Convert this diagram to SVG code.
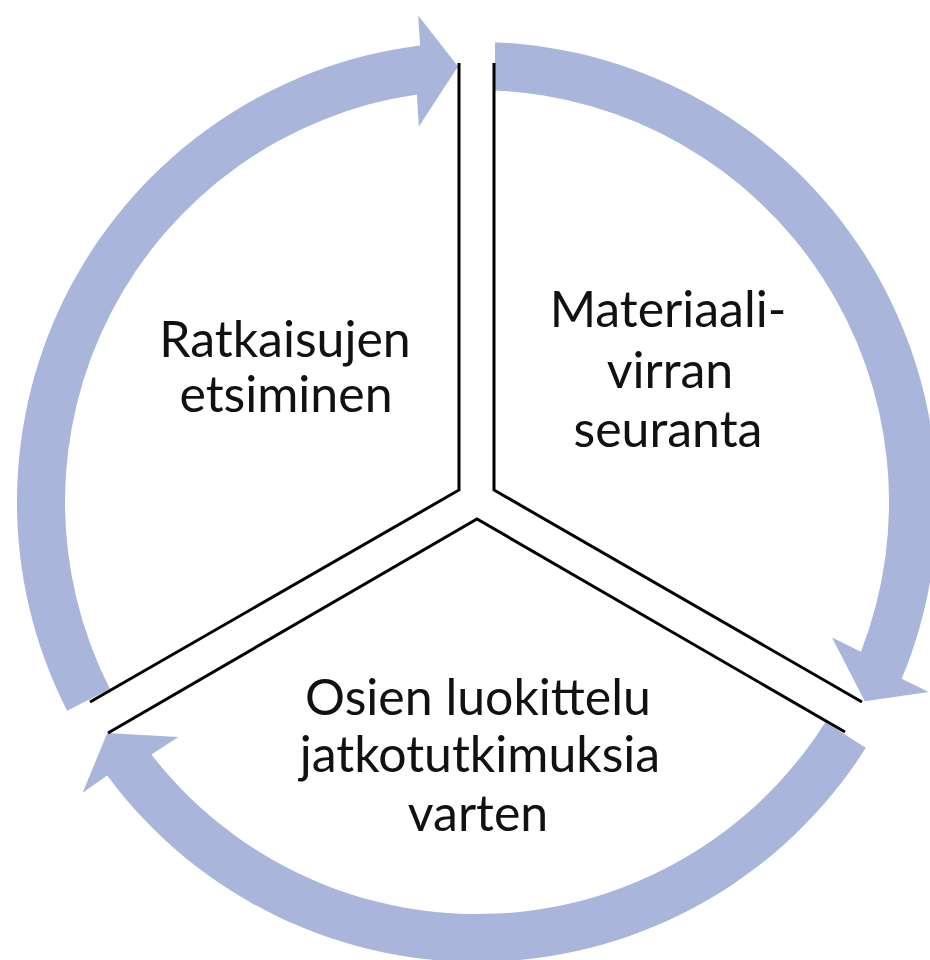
<svg xmlns="http://www.w3.org/2000/svg" width="930" height="960" viewBox="0 0 930 960">
<style>
.arrow{fill:#A9B5DB;stroke:none}
.div{fill:none;stroke:#000;stroke-width:3;stroke-linejoin:miter;stroke-linecap:butt}
.lbl{font-family:Lato,"Open Sans","Liberation Sans",sans-serif;font-size:50px;fill:#111;text-anchor:middle}
</style>
<rect width="930" height="960" fill="#fff"/>
<g id="connectors">
<path class="arrow" d="M67.1,710.8 A460,460 0 0 1 420.1,45.5 L418.2,15.5 L458,66.4 L418.9,126.5 L416.8,94.4 A412,412 0 0 0 109.9,689 Z"/>
<path class="arrow" d="M495,42.4 A460,460 0 0 1 901.7,678.8 L928.7,691.9 L864.8,701.3 L832,637.5 L860.9,651.7 A412,412 0 0 0 495,90.4 Z"/>
<path class="arrow" d="M865.8,747.8 A460,460 0 0 1 107.2,775.6 L82.6,792.8 L107.3,733 L178.4,737 L151.4,754.5 A412,412 0 0 0 825.3,722.2 Z"/>
</g>
<g id="dividers">
<polyline class="div" points="90,702 459,490 459,63"/>
<polyline class="div" points="494,63 494,490 862,702"/>
<polyline class="div" points="108,733 477,519 845,732"/>
</g>
<g id="node-ratkaisujen">
<text class="lbl" x="285" y="357">Ratkaisujen</text>
<text class="lbl" x="286" y="412">etsiminen</text>
</g>
<g id="node-materiaali">
<text class="lbl" x="668" y="327">Materiaali-</text>
<text class="lbl" x="670" y="388">virran</text>
<text class="lbl" x="668" y="447">seuranta</text>
</g>
<g id="node-osien">
<text class="lbl" x="478" y="715">Osien luokittelu</text>
<text class="lbl" x="480" y="772">jatkotutkimuksia</text>
<text class="lbl" x="478" y="831">varten</text>
</g>
</svg>
